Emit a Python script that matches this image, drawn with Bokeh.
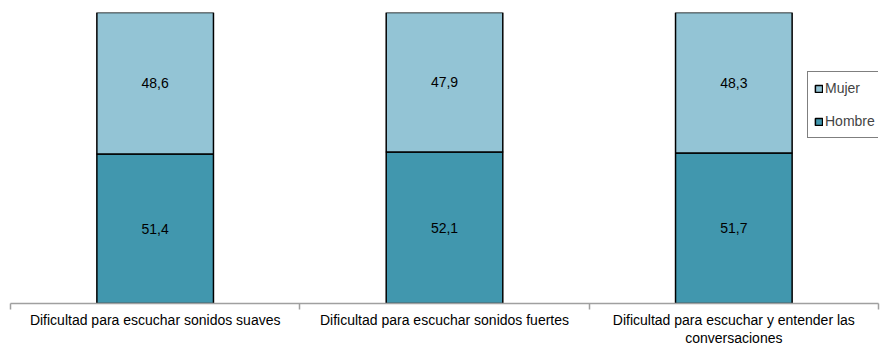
from bokeh.plotting import figure
from bokeh.models import ColumnDataSource, FixedTicker, Legend, LegendItem, Range1d
from bokeh.core.properties import value
from bokeh.embed import file_html
from bokeh.resources import INLINE

categories = [
    "Dificultad para escuchar sonidos suaves",
    "Dificultad para escuchar sonidos fuertes",
    "Dificultad para escuchar y entender las\nconversaciones",
]
hombre = [51.4, 52.1, 51.7]
mujer = [48.6, 47.9, 48.3]
series = ["Hombre", "Mujer"]
colors = ["#4197AE", "#93C4D5"]

FONT = "Liberation Sans"

x = [i + 0.5 for i in range(len(categories))]
src = ColumnDataSource(dict(x=x, Hombre=hombre, Mujer=mujer))

p = figure(width=880, height=348, output_backend="svg", toolbar_location=None,
           x_range=Range1d(0, len(categories)), y_range=Range1d(0, 100),
           min_border_left=10, min_border_right=2, min_border_top=12, min_border_bottom=30)
p.outline_line_color = None
p.grid.visible = False
p.yaxis.visible = False

rs = p.vbar_stack(series, x='x', width=0.403, fill_color=colors, line_color="black",
                  line_width=1.5, source=src)

# value labels
lx, ly, lt = [], [], []
for i in range(len(categories)):
    lx += [x[i], x[i]]
    ly += [hombre[i] / 2, hombre[i] + mujer[i] / 2]
    lt += [f"{hombre[i]:.1f}".replace(".", ","), f"{mujer[i]:.1f}".replace(".", ",")]
p.text(x=lx, y=ly, text=lt, text_align="center", text_baseline="middle",
       text_font=value(FONT), text_font_size="14px", text_color="black")

ax = p.xaxis[0]
ax.ticker = FixedTicker(ticks=x, minor_ticks=list(range(len(categories) + 1)))
ax.major_label_overrides = {x[i]: categories[i] for i in range(len(categories))}
ax.major_tick_in = 0
ax.major_tick_out = 0
ax.minor_tick_in = 0
ax.minor_tick_out = 6
ax.axis_line_color = "#A0A0A0"
ax.axis_line_width = 1.5
ax.minor_tick_line_color = "#A0A0A0"
ax.minor_tick_line_width = 1.5
ax.major_label_text_font = FONT
ax.major_label_text_font_size = "14px"
ax.major_label_text_color = "black"
ax.major_label_text_line_height = 1.15
ax.major_label_standoff = 2

legend = Legend(items=[LegendItem(label="Mujer", renderers=[rs[1]]),
                       LegendItem(label="Hombre", renderers=[rs[0]])],
                location=(797, 165))
legend.border_line_color = "black"
legend.border_line_width = 1
legend.glyph_width = 9
legend.glyph_height = 9
legend.label_text_font = FONT
legend.label_text_font_size = "14px"
legend.label_standoff = 2
legend.padding = 6
legend.spacing = 13
legend.margin = 0
legend.label_height = 20
p.add_layout(legend)

open("out.html", "w").write(file_html(p, INLINE))
